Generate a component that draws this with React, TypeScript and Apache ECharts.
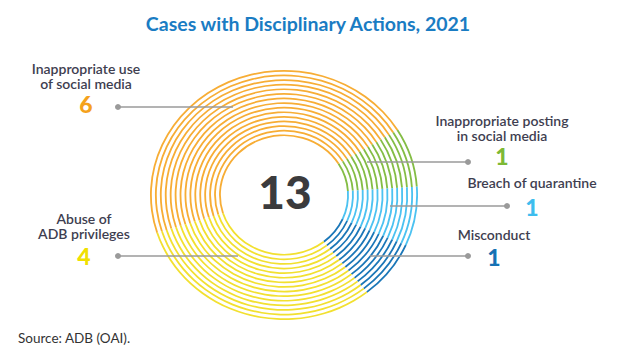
import React, { useEffect, useRef } from "react";
import * as echarts from "echarts";

const TITLE = "Cases with Disciplinary Actions, 2021";
const SOURCE = "Source: ADB (OAI).";
const CATEGORIES = [
  "Inappropriate use of social media",
  "Inappropriate posting in social media",
  "Breach of quarantine",
  "Misconduct",
  "Abuse of ADB privileges",
];
const LABEL_LINES = [
  ["Inappropriate use", "of social media"],
  ["Inappropriate posting", "in social media"],
  ["Breach of quarantine"],
  ["Misconduct"],
  ["Abuse of", "ADB privileges"],
];
const VALUES = [6, 1, 1, 1, 4];
const COLORS = ["#F7AD35", "#84BD45", "#4CC2F1", "#1B77B8", "#F2E030"];
const NUM_COLORS = ["#F5A21C", "#7DB935", "#3EBDEE", "#1672B5", "#F0E000"];
const TOTAL = VALUES.reduce((a, b) => a + b, 0);

// layout (pixels)
const CX = 284;
const CY = 195;
const OUTER_R = 125;
const RING_COUNT = 15;
const RING_STEP = 4.6;
const RING_W = 1.7;
const X_STRETCH = 1.072;
const LINE_H = 15;

// label anchors: [textCenterX, firstLineY, numberY, dotX, dotY, lineEndX]
const LABEL_POS = [
  [86, 68.5, 104, 118, 107, 233],
  [502, 120.5, 156, 468, 162, 367],
  [532, 182, 207, 507, 206, 390],
  [494, 234, 257, 468, 256, 370],
  [84, 218.5, 256, 118, 256, 238],
];

export default function App() {
  const pieRef = useRef<HTMLDivElement>(null);
  const textRef = useRef<HTMLDivElement>(null);

  useEffect(() => {
    const pie = echarts.init(pieRef.current!, null, { renderer: "svg" });
    const data = CATEGORIES.map((name, i) => ({
      name,
      value: VALUES[i],
      itemStyle: { color: COLORS[i] },
    }));
    const series = [];
    for (let k = 0; k < RING_COUNT; k++) {
      const r = OUTER_R - k * RING_STEP;
      series.push({
        type: "pie",
        center: [CX, CY],
        radius: [r - RING_W, r],
        startAngle: 197.7,
        clockwise: true,
        silent: true,
        label: { show: false },
        labelLine: { show: false },
        itemStyle: { borderWidth: 0 },
        data,
      });
    }
    pie.setOption({ animation: false, series });

    const txt = echarts.init(textRef.current!, null, { renderer: "svg" });
    const elements: any[] = [];
    elements.push({
      type: "text",
      x: 308,
      y: 23,
      style: {
        text: TITLE,
        fill: "#1A7CC3",
        font: "bold 19.5px Lato",
        textAlign: "center",
        textVerticalAlign: "middle",
      },
    });
    elements.push({
      type: "text",
      x: 285,
      y: 191,
      style: {
        text: String(TOTAL),
        fill: "#3B3B3D",
        font: "900 46px Lato",
        textAlign: "center",
        textVerticalAlign: "middle",
      },
    });
    elements.push({
      type: "text",
      x: 18,
      y: 338,
      style: {
        text: SOURCE,
        fill: "#333333",
        font: "13.5px Lato",
        textAlign: "left",
        textVerticalAlign: "middle",
      },
    });
    LABEL_POS.forEach((p, i) => {
      const [tx, ty, ny, dx, dy, lx] = p;
      LABEL_LINES[i].forEach((line, j) => {
        elements.push({
          type: "text",
          x: tx,
          y: ty + j * LINE_H,
          style: {
            text: line,
            fill: "#3E3E50",
            font: "600 14px Lato",
            textAlign: "center",
            textVerticalAlign: "middle",
          },
        });
      });
      elements.push({
        type: "text",
        x: tx,
        y: ny,
        style: {
          text: String(VALUES[i]),
          fill: NUM_COLORS[i],
          font: "900 23px Lato",
          textAlign: "center",
          textVerticalAlign: "middle",
        },
      });
      elements.push({
        type: "line",
        shape: { x1: dx, y1: dy, x2: lx, y2: dy },
        style: { stroke: "#9A9A9A", lineWidth: 1.3 },
      });
      elements.push({
        type: "circle",
        shape: { cx: dx, cy: dy, r: 3 },
        style: { fill: "#9A9A9A" },
      });
    });
    txt.setOption({ animation: false, graphic: { elements } });

    return () => {
      pie.dispose();
      txt.dispose();
    };
  }, []);

  return (
    <div
      style={{
        position: "fixed",
        left: 0,
        top: 0,
        width: 637,
        height: 357,
        background: "#ffffff",
        overflow: "hidden",
      }}
    >
      <div
        ref={pieRef}
        style={{
          position: "absolute",
          left: 0,
          top: 0,
          width: 637,
          height: 357,
          transform: `scaleX(${X_STRETCH})`,
          transformOrigin: `${CX}px ${CY}px`,
        }}
      />
      <div
        ref={textRef}
        style={{ position: "absolute", left: 0, top: 0, width: 637, height: 357 }}
      />
    </div>
  );
}
